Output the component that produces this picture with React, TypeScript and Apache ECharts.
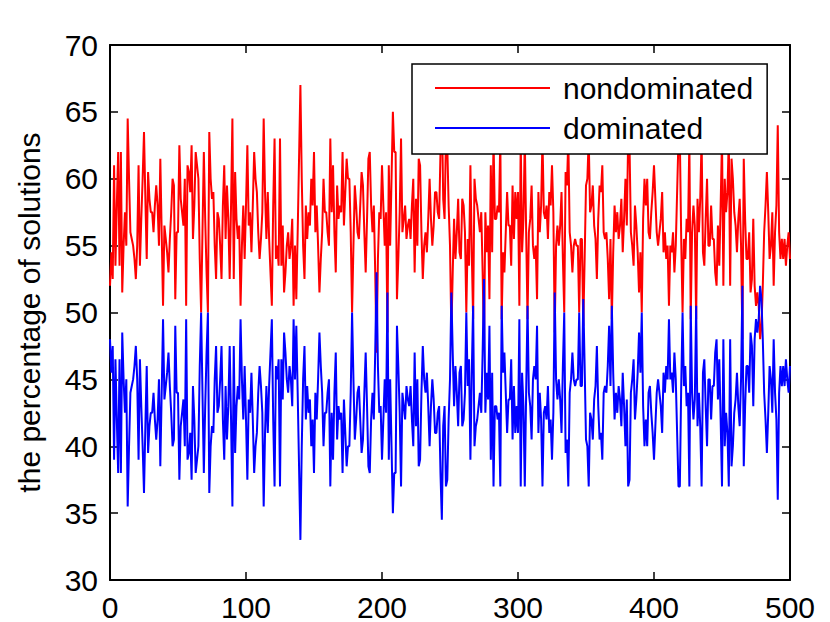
import React, { useEffect, useRef } from "react";
import * as echarts from "echarts";

const seriesNames = ["nondominated", "dominated"];
const yLabel = "the percentage of solutions";

const nondominated = [
  52, 54.5, 52.5, 61, 53.5, 58, 62, 53.5, 62, 51.5,
  55, 57.5, 55, 64.5, 60, 56, 55.5, 55, 54, 52.5,
  55, 61, 53.5, 57, 60, 63.5, 58.5, 54, 60.5, 58.5,
  57.5, 57.5, 56, 58, 59.5, 58, 55, 61.5, 56, 50.5,
  56.5, 55.5, 54.5, 53, 55.5, 57.5, 60, 59.5, 51, 56,
  56, 62.5, 58.5, 57.5, 56.5, 60, 50.5, 61, 60.5, 59,
  62.5, 55.5, 58, 62, 61, 60, 54, 50, 56, 62,
  57, 53, 50, 63.5, 60, 58.5, 59, 55, 52.5, 57.5,
  57, 55, 52.5, 58, 61, 55.5, 59.5, 57, 52.5, 58,
  64.5, 52.5, 60.5, 57, 55.5, 56.5, 50.5, 55, 58, 54,
  58, 62.5, 56.5, 57.5, 54.5, 58, 62, 60, 59, 56,
  54, 55.5, 57.5, 64.5, 59, 55.5, 59, 55.5, 53, 50.5,
  58, 63, 54, 55, 53.5, 63, 53.5, 56.5, 51.5, 53,
  55, 56, 54, 55, 57, 50.5, 55, 51, 56, 61.5,
  67, 60, 55, 52.5, 58, 55.5, 57.5, 56.5, 60, 58,
  62, 56, 58, 55, 51.5, 54, 56, 60, 57.5, 57.5,
  56, 55, 63, 57.5, 61, 56, 53, 59.5, 57, 58,
  57.5, 62, 56.5, 59, 61.5, 60, 60, 56, 50, 55,
  59.5, 58, 56, 55.5, 58, 60.5, 59.5, 56, 53, 57,
  61.5, 62, 58, 56, 58, 53, 47, 54, 57.5, 57,
  61, 58, 55, 57.5, 48.5, 61, 55, 60, 65, 62,
  62, 51, 54, 57.5, 63, 56, 57, 58, 55.5, 56.5,
  57, 55.5, 58, 60, 53, 58.5, 55, 61.5, 61, 56,
  52.5, 55, 56, 54.5, 57, 60, 57, 55, 56.5, 59,
  59, 57.5, 57, 62, 65.5, 58.5, 57, 63, 62.5, 58,
  55, 48.5, 53, 57, 54, 56, 58.5, 54.5, 54, 58.5,
  58, 56, 50, 55.5, 53.5, 61, 54.5, 49.5, 60, 58.5,
  58, 57, 56, 57.5, 53, 47.5, 57.5, 54.5, 56.5, 51,
  61, 54.5, 63, 57, 57, 58, 57.5, 63, 49.5, 54.5,
  53, 56, 59, 56.5, 56.5, 53.5, 59.5, 55.5, 59, 57,
  59, 50.5, 63, 54.5, 57, 63, 56, 49.5, 56, 57,
  59.5, 55, 54, 55, 51, 59, 56, 58, 63, 57.5,
  57, 58, 55.5, 59, 58, 61, 57.5, 48.5, 55, 56.5,
  55, 56.5, 59, 54, 50, 60.5, 59.5, 63, 56, 55,
  53, 55, 55.5, 55, 55, 50, 55.5, 55.5, 49, 54,
  59.5, 60, 63, 57.5, 58, 59.5, 56.5, 55.5, 52.5, 57,
  59.5, 59, 61, 56, 55.5, 56, 54, 51, 55.5, 49.5,
  54.5, 58, 56, 57.5, 55.5, 56.5, 58.5, 54.5, 57, 60,
  56.5, 63, 62.5, 56, 55, 53.5, 58, 56.5, 54.5, 51.5,
  54.5, 50, 57, 60, 58, 60, 56, 55.5, 57.5, 59,
  61, 58.5, 56, 55, 56, 57, 59, 54.5, 56, 54,
  55, 50.5, 55, 54.5, 56, 53, 55, 59, 63, 63,
  55.5, 50, 55.5, 54, 57, 56, 63, 49.5, 56, 58,
  56.5, 49.5, 58.5, 56, 58.5, 63, 54.5, 53.5, 57, 60,
  55, 55, 58, 55.5, 55.5, 53, 52, 56.5, 53.5, 58,
  63, 52, 60, 57.5, 59, 63, 52, 61.5, 60, 57.5,
  56.5, 54.5, 57, 58.5, 55, 48, 61.5, 57, 54, 54,
  56, 51.5, 52.5, 57, 52, 50.5, 51.5, 50.5, 48, 49,
  52, 56, 58, 60.5, 57.5, 54, 55, 57.5, 52, 56,
  58, 64, 56, 54, 55.5, 54, 55.5, 53.5, 55, 56,
  54,
];

const dominated = [
  48, 45.5, 47.5, 39, 46.5, 42, 38, 46.5, 38, 48.5,
  45, 42.5, 45, 35.5, 40, 44, 44.5, 45, 46, 47.5,
  45, 39, 46.5, 43, 40, 36.5, 41.5, 46, 39.5, 41.5,
  42.5, 42.5, 44, 42, 40.5, 42, 45, 38.5, 44, 49.5,
  43.5, 44.5, 45.5, 47, 44.5, 42.5, 40, 40.5, 49, 44,
  44, 37.5, 41.5, 42.5, 43.5, 40, 49.5, 39, 39.5, 41,
  37.5, 44.5, 42, 38, 39, 40, 46, 50, 44, 38,
  43, 47, 50, 36.5, 40, 41.5, 41, 45, 47.5, 42.5,
  43, 45, 47.5, 42, 39, 44.5, 40.5, 43, 47.5, 42,
  35.5, 47.5, 39.5, 43, 44.5, 43.5, 49.5, 45, 42, 46,
  42, 37.5, 43.5, 42.5, 45.5, 42, 38, 40, 41, 44,
  46, 44.5, 42.5, 35.5, 41, 44.5, 41, 44.5, 47, 49.5,
  42, 37, 46, 45, 46.5, 37, 46.5, 43.5, 48.5, 47,
  45, 44, 46, 45, 43, 49.5, 45, 49, 44, 38.5,
  33, 40, 45, 47.5, 42, 44.5, 42.5, 43.5, 40, 42,
  38, 44, 42, 45, 48.5, 46, 44, 40, 42.5, 42.5,
  44, 45, 37, 42.5, 39, 44, 47, 40.5, 43, 42,
  42.5, 38, 43.5, 41, 38.5, 40, 40, 44, 50, 45,
  40.5, 42, 44, 44.5, 42, 39.5, 40.5, 44, 47, 43,
  38.5, 38, 42, 44, 42, 47, 53, 46, 42.5, 43,
  39, 42, 45, 42.5, 51.5, 39, 45, 40, 35, 38,
  38, 49, 46, 42.5, 37, 44, 43, 42, 44.5, 43.5,
  43, 44.5, 42, 40, 47, 41.5, 45, 38.5, 39, 44,
  47.5, 45, 44, 45.5, 43, 40, 43, 45, 43.5, 41,
  41, 42.5, 43, 38, 34.5, 41.5, 43, 37, 37.5, 42,
  45, 51.5, 47, 43, 46, 44, 41.5, 45.5, 46, 41.5,
  42, 44, 50, 44.5, 46.5, 39, 45.5, 50.5, 40, 41.5,
  42, 43, 44, 42.5, 47, 52.5, 42.5, 45.5, 43.5, 49,
  39, 45.5, 37, 43, 43, 42, 42.5, 37, 50.5, 45.5,
  47, 44, 41, 43.5, 43.5, 46.5, 40.5, 44.5, 41, 43,
  41, 49.5, 37, 45.5, 43, 37, 44, 50.5, 44, 43,
  40.5, 45, 46, 45, 49, 41, 44, 42, 37, 42.5,
  43, 42, 44.5, 41, 42, 39, 42.5, 51.5, 45, 43.5,
  45, 43.5, 41, 46, 50, 39.5, 40.5, 37, 44, 45,
  47, 45, 44.5, 45, 45, 50, 44.5, 44.5, 51, 46,
  40.5, 40, 37, 42.5, 42, 40.5, 43.5, 44.5, 47.5, 43,
  40.5, 41, 39, 44, 44.5, 44, 46, 49, 44.5, 50.5,
  45.5, 42, 44, 42.5, 44.5, 43.5, 41.5, 45.5, 43, 40,
  43.5, 37, 37.5, 44, 45, 46.5, 42, 43.5, 45.5, 48.5,
  45.5, 50, 43, 40, 42, 40, 44, 44.5, 42.5, 41,
  39, 41.5, 44, 45, 44, 43, 41, 45.5, 44, 46,
  45, 49.5, 45, 45.5, 44, 47, 45, 41, 37, 37,
  44.5, 50, 44.5, 46, 43, 44, 37, 50.5, 44, 42,
  43.5, 50.5, 41.5, 44, 41.5, 37, 45.5, 46.5, 43, 40,
  45, 45, 42, 44.5, 44.5, 47, 48, 43.5, 46.5, 42,
  37, 48, 40, 42.5, 41, 37, 48, 38.5, 40, 42.5,
  43.5, 45.5, 43, 41.5, 45, 52, 38.5, 43, 46, 46,
  44, 48.5, 47.5, 43, 48, 49.5, 48.5, 49.5, 52, 51,
  48, 44, 42, 39.5, 42.5, 46, 45, 42.5, 48, 44,
  42, 36, 44, 46, 44.5, 46, 44.5, 46.5, 45, 44,
  46,
];

const FONT = "'Liberation Sans', Arial, Helvetica, sans-serif";

export default function App() {
  const ref = useRef<HTMLDivElement>(null);

  useEffect(() => {
    if (!ref.current) return;
    const chart = echarts.init(ref.current, undefined, { renderer: "svg" });

    const axisLine = { show: true, onZero: false, lineStyle: { color: "#000", width: 2 } };
    const axisTick = { show: true, inside: true, length: 8, lineStyle: { color: "#000", width: 1.5 } };
    const label = { fontSize: 30, color: "#000", fontFamily: FONT };

    chart.setOption({
      animation: false,
      backgroundColor: "#fff",
      textStyle: { fontFamily: FONT },
      grid: { left: 110, top: 45, right: 40, bottom: 41, containLabel: false },
      xAxis: [
        {
          type: "value", min: 0, max: 500, interval: 100, position: "bottom",
          axisLine, axisTick, splitLine: { show: false },
          axisLabel: { ...label, margin: 12 },
        },
        {
          type: "value", min: 0, max: 500, interval: 100, position: "top",
          axisLine, axisTick, splitLine: { show: false }, axisLabel: { show: false },
        },
      ],
      yAxis: [
        {
          type: "value", min: 30, max: 70, interval: 5, position: "left",
          axisLine, axisTick, splitLine: { show: false },
          axisLabel: { ...label, margin: 12 },
          name: yLabel, nameLocation: "middle", nameGap: 66,
          nameTextStyle: { ...label },
        },
        {
          type: "value", min: 30, max: 70, interval: 5, position: "right",
          axisLine, axisTick, splitLine: { show: false }, axisLabel: { show: false },
        },
      ],
      legend: {
        orient: "vertical",
        left: 412,
        top: 64,
        data: seriesNames,
        icon: "rect",
        backgroundColor: "#fff",
        borderColor: "#000",
        borderWidth: 1.5,
        padding: [9, 14, 11, 23],
        itemGap: 10,
        itemWidth: 115,
        itemHeight: 2,
        textStyle: { ...label, padding: [0, 0, 0, 8] },
      },
      series: [
        {
          name: seriesNames[0], type: "line", xAxisIndex: 0, yAxisIndex: 0,
          data: nondominated.map((v, i) => [i, v]),
          symbol: "none", showSymbol: false,
          lineStyle: { color: "#ff0000", width: 2 }, itemStyle: { color: "#ff0000" },
        },
        {
          name: seriesNames[1], type: "line", xAxisIndex: 0, yAxisIndex: 0,
          data: dominated.map((v, i) => [i, v]),
          symbol: "none", showSymbol: false,
          lineStyle: { color: "#0000ff", width: 2 }, itemStyle: { color: "#0000ff" },
        },
      ],
    });

    return () => chart.dispose();
  }, []);

  return (
    <div
      ref={ref}
      style={{ position: "fixed", left: 0, top: 0, width: 830, height: 622, background: "#fff" }}
    />
  );
}
